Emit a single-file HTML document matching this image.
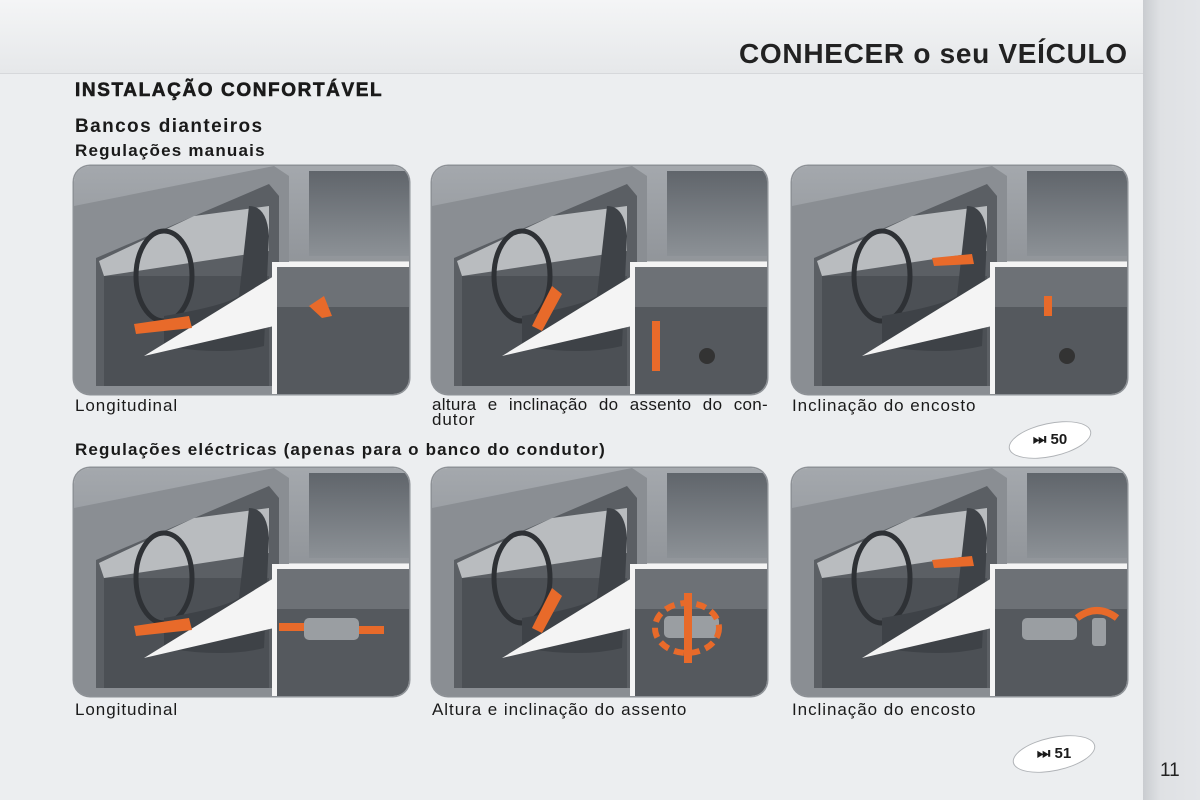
<!DOCTYPE html>
<html><head><meta charset="utf-8"><style>
body{margin:0;width:1200px;height:800px;overflow:hidden;position:relative;background:#eceef0;font-family:"Liberation Sans",sans-serif;color:#1a1a1a}
.hdr{position:absolute;left:0;top:0;width:1143px;height:73px;background:linear-gradient(#f4f5f6,#e6e8ea);border-bottom:1px solid #d6d8db}
.strip{position:absolute;left:1143px;top:0;width:57px;height:800px;background:linear-gradient(90deg,#c9ccd0,#dfe1e4 30%,#e3e5e8)}
.t{position:absolute;white-space:nowrap}
.cap{font-size:17px;letter-spacing:0.95px}
.panel{position:absolute;width:335px;height:228px;border-radius:16px;overflow:hidden;box-shadow:0 0 0 1.5px #8d9196}
.badge{position:absolute;width:82px;height:32px;border-radius:50%;background:#fff;border:1px solid #b0b3b7;transform:rotate(-12deg)}
.badge span{display:block;transform:rotate(12deg);font-weight:bold;font-size:15px;text-align:center;line-height:32px}
</style></head><body>
<div class="hdr"></div><div class="strip"></div>
<div class="t" style="left:739px;top:38px;font-size:28px;font-weight:bold;color:#222;letter-spacing:0.7px">CONHECER o seu VEÍCULO</div>
<div class="t" style="left:75px;top:80px;font-size:19px;font-weight:bold;letter-spacing:1.6px;-webkit-text-stroke:0.6px #1a1a1a">INSTALAÇÃO CONFORTÁVEL</div>
<div class="t" style="left:75px;top:116px;font-size:19px;font-weight:bold;letter-spacing:1.4px">Bancos dianteiros</div>
<div class="t" style="left:75px;top:141px;font-size:17px;font-weight:bold;letter-spacing:1.2px">Regulações manuais</div>
<div class="t" style="left:75px;top:440px;font-size:17px;font-weight:bold;letter-spacing:1.15px">Regulações eléctricas (apenas para o banco do condutor)</div>

<svg width="0" height="0" style="position:absolute"><defs>
<linearGradient id="bg" x1="0" y1="0" x2="0" y2="1"><stop offset="0" stop-color="#a4a8ad"/><stop offset="1" stop-color="#777b80"/></linearGradient>
<linearGradient id="win" x1="0" y1="0" x2="0" y2="1"><stop offset="0" stop-color="#60656b"/><stop offset="1" stop-color="#8c9196"/></linearGradient>
<g id="car">
<rect width="335" height="228" fill="url(#bg)"/>
<rect x="235" y="5" width="100" height="85" fill="url(#win)"/>
<polygon points="0,40 200,0 215,10 215,228 0,228" fill="#8a8e93"/>
<polygon points="22,92 195,18 205,30 205,220 22,220" fill="#5b5f64"/>
<polygon points="25,95 120,50 195,40 195,85 30,110" fill="#b9bcbf"/>
<rect x="30" y="110" width="165" height="110" fill="#4c5055"/>
<ellipse cx="90" cy="110" rx="28" ry="45" fill="none" stroke="#2e3135" stroke-width="5"/>
<path d="M175 40 q18 0 20 30 l-5 110 q-40 10 -100 0 l0 -30 q60 -10 75 -20z" fill="#3e4247"/>
<rect x="215" y="95" width="120" height="5" fill="#c8cacc"/>
</g>
<g id="inset">
<polygon points="200,110 200,160 70,190" fill="#f4f4f4"/>
<rect x="198" y="96" width="137" height="132" fill="#f4f4f4"/>
<rect x="203" y="101" width="132" height="127" fill="#55595e"/>
<rect x="203" y="101" width="132" height="40" fill="#6d7176"/>
</g>
</defs></svg>

<svg class="panel" style="left:74px;top:166px" viewBox="0 0 335 228"><use href="#car"/><use href="#inset"/><polygon points="60,158 115,150 118,162 62,168" fill="#e86a2a"/><polygon points="235,140 250,130 258,150 248,152" fill="#e86a2a"/></svg>
<svg class="panel" style="left:432px;top:166px" viewBox="0 0 335 228"><use href="#car"/><use href="#inset"/><polygon points="100,160 120,120 130,128 110,165" fill="#e86a2a"/><rect x="220" y="155" width="8" height="50" fill="#e86a2a"/><circle cx="275" cy="190" r="8" fill="#333"/></svg>
<svg class="panel" style="left:792px;top:166px" viewBox="0 0 335 228"><use href="#car"/><use href="#inset"/><polygon points="140,92 180,88 182,98 142,100" fill="#e86a2a"/><rect x="252" y="130" width="8" height="20" fill="#e86a2a"/><circle cx="275" cy="190" r="8" fill="#333"/></svg>
<svg class="panel" style="left:74px;top:468px" viewBox="0 0 335 228"><use href="#car"/><use href="#inset"/><polygon points="60,158 115,150 118,162 62,168" fill="#e86a2a"/><rect x="230" y="150" width="55" height="22" rx="5" fill="#9a9ea2"/><rect x="205" y="155" width="25" height="8" fill="#e86a2a"/><rect x="285" y="158" width="25" height="8" fill="#e86a2a"/></svg>
<svg class="panel" style="left:432px;top:468px" viewBox="0 0 335 228"><use href="#car"/><use href="#inset"/><polygon points="100,160 120,120 130,128 110,165" fill="#e86a2a"/><rect x="232" y="148" width="55" height="22" rx="5" fill="#9a9ea2"/><rect x="252" y="125" width="8" height="70" fill="#e86a2a"/><ellipse cx="255" cy="160" rx="32" ry="25" fill="none" stroke="#e86a2a" stroke-width="6" stroke-dasharray="10 6"/></svg>
<svg class="panel" style="left:792px;top:468px" viewBox="0 0 335 228"><use href="#car"/><use href="#inset"/><polygon points="140,92 180,88 182,98 142,100" fill="#e86a2a"/><rect x="230" y="150" width="55" height="22" rx="5" fill="#9a9ea2"/><rect x="300" y="150" width="14" height="28" rx="3" fill="#9a9ea2"/><path d="M285 150 q20 -15 40 0" fill="none" stroke="#e86a2a" stroke-width="7"/></svg>

<div class="t cap" style="left:75px;top:396px">Longitudinal</div>
<div class="t cap" style="left:432px;top:397px;line-height:15px;width:336px;text-align:justify;text-align-last:justify;letter-spacing:0.3px">altura e inclinação do assento do con-</div>
<div class="t cap" style="left:432px;top:412px;line-height:15px">dutor</div>
<div class="t cap" style="left:792px;top:396px">Inclinação do encosto</div>
<div class="t cap" style="left:75px;top:700px">Longitudinal</div>
<div class="t cap" style="left:432px;top:700px">Altura e inclinação do assento</div>
<div class="t cap" style="left:792px;top:700px">Inclinação do encosto</div>

<div class="badge" style="left:1008px;top:423px"><span>⏭ 50</span></div>
<div class="badge" style="left:1012px;top:737px"><span>⏭ 51</span></div>
<div class="t" style="left:1160px;top:760px;font-size:19px;color:#222">11</div>
</body></html>
